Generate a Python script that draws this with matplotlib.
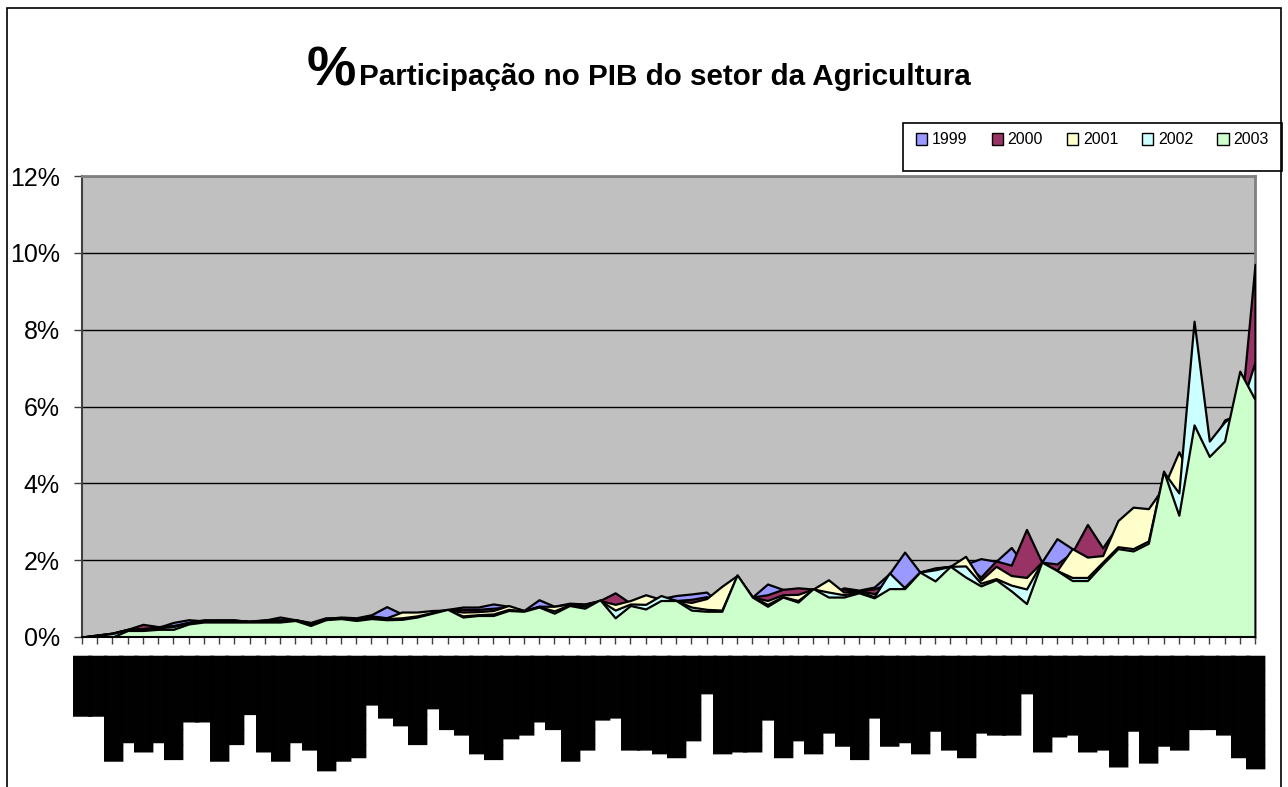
import matplotlib
matplotlib.use('Agg')
import matplotlib.pyplot as plt
import numpy as np
from matplotlib.patches import Rectangle, Patch
from matplotlib.ticker import FuncFormatter

# ---------------- data ----------------
anos = ['1999', '2000', '2001', '2002', '2003']

v1999 = [0, .05, .1, .2, .22, .25, .38, .45, .42, .43,
         .43, .42, .44, .52, .45, .36, .48, .52, .5, .58,
         .79, .6, .62, .66, .72, .78, .78, .86, .8, .69,
         .97, .8, .88, .86, .95, .8, .9, .9, 1.0, 1.08,
         1.12, 1.17, .8, 1.6, 1.04, 1.38, 1.24, 1.2, 1.25, 1.1,
         1.28, 1.22, 1.3, 1.65, 2.21, 1.69, 1.78, 1.84, 1.9, 2.04,
         1.97, 2.33, 1.8, 1.95, 2.56, 2.3, 2.1, 2.3, 2.9, 3.2,
         3.3, 3.9, 4.5, 4.0, 4.9, 5.5, 5.8, 6.5]
v2000 = [0, .05, .1, .2, .33, .27, .3, .38, .45, .45,
         .45, .4, .45, .45, .45, .38, .5, .5, .48, .55,
         .5, .62, .6, .65, .7, .72, .72, .75, .78, .68,
         .8, .75, .86, .84, .95, 1.15, .88, .9, 1.0, .95,
         .98, 1.05, .85, 1.6, 1.04, 1.1, 1.24, 1.28, 1.25, 1.1,
         1.25, 1.2, 1.25, 1.4, 1.3, 1.69, 1.78, 1.84, 1.9, 1.56,
         1.98, 1.87, 2.8, 1.95, 1.9, 2.2, 2.93, 2.32, 2.9, 3.2,
         3.3, 3.9, 4.5, 4.0, 4.9, 5.5, 5.5, 9.7]
v2001 = [0, .05, .1, .2, .22, .25, .28, .38, .43, .43,
         .43, .4, .43, .43, .45, .36, .47, .5, .46, .52,
         .5, .65, .65, .69, .7, .65, .66, .69, .82, .69,
         .8, .8, .86, .85, .95, .85, .95, 1.1, .98, .95,
         .9, 1.0, 1.32, 1.6, 1.04, .95, 1.1, 1.11, 1.25, 1.49,
         1.17, 1.2, 1.13, 1.3, 1.28, 1.69, 1.8, 1.84, 2.1, 1.48,
         1.84, 1.6, 1.55, 1.95, 1.73, 2.3, 2.08, 2.12, 3.03, 3.38,
         3.34, 3.9, 4.82, 4.0, 4.9, 5.65, 5.8, 6.5]
v2002 = [0, .04, .09, .19, .22, .24, .27, .37, .42, .42,
         .42, .4, .42, .42, .44, .34, .46, .49, .45, .5,
         .48, .5, .55, .64, .7, .55, .58, .6, .72, .68,
         .79, .68, .84, .8, .95, .7, .86, .85, 1.08, .95,
         .78, .72, .7, 1.6, 1.04, .85, 1.05, .95, 1.25, 1.17,
         1.1, 1.18, 1.05, 1.67, 1.28, 1.69, 1.75, 1.84, 1.85, 1.4,
         1.52, 1.35, 1.25, 1.95, 1.73, 1.55, 1.55, 1.95, 2.35, 2.3,
         2.5, 4.3, 3.75, 8.22, 5.1, 5.6, 5.9, 7.16]
v2003 = [0, 0, 0, .17, .17, .2, .2, .34, .39, .39,
         .39, .39, .39, .39, .43, .3, .45, .48, .43, .48,
         .45, .46, .52, .62, .72, .52, .56, .56, .69, .67,
         .78, .62, .82, .75, .97, .5, .82, .73, .95, .95,
         .7, .67, .67, 1.62, 1.04, .8, 1.04, .91, 1.26, 1.04,
         1.04, 1.15, 1.02, 1.26, 1.26, 1.69, 1.46, 1.84, 1.56, 1.33,
         1.49, 1.2, .87, 1.95, 1.73, 1.47, 1.47, 1.9, 2.3, 2.24,
         2.44, 4.32, 3.17, 5.52, 4.7, 5.1, 6.92, 6.18]
series = [v1999, v2000, v2001, v2002, v2003]

# category labels (redacted in the original: shown as solid black blocks);
# label length in eighths of a block character
comprimento_rotulos = [33, 33, 57, 47, 52, 47, 56, 36, 36, 57,
                       48, 32, 52, 57, 47, 51, 62, 57, 55, 27,
                       34, 38, 48, 29, 40, 43, 53, 56, 45, 43,
                       36, 40, 57, 51, 35, 34, 51, 51, 53, 55,
                       46, 21, 53, 52, 52, 35, 55, 46, 53, 42,
                       49, 56, 34, 49, 47, 53, 41, 51, 55, 42,
                       43, 43, 21, 52, 44, 43, 52, 51, 60, 41,
                       58, 49, 51, 40, 40, 43, 55, 61]
_parciais = ['', '\u258f', '\u258e', '\u258d', '\u258c', '\u258b', '\u258a', '\u2589']
categorias = ['\u2588' * (n // 8) + _parciais[n % 8] for n in comprimento_rotulos]

yticks = [0, 2, 4, 6, 8, 10, 12]

# ---------------- style ----------------
cores = ['#9999FF', '#993366', '#FFFFCC', '#CCFFFF', '#CCFFCC']
W, H = 1288, 787
fig = plt.figure(figsize=(W / 100, H / 100), dpi=100)
fig.patch.set_facecolor('white')

ax = fig.add_axes([82 / W, 1 - 637 / H, (1255 - 82) / W, (637 - 176) / H])
ax.set_facecolor('#C0C0C0')

x = np.arange(len(categorias))
for serie, cor, ano in zip(series, cores, anos):
    ax.fill_between(x, 0, serie, facecolor=cor, edgecolor='black',
                    linewidth=1.6, zorder=3, label=ano)

ax.set_xlim(0, len(categorias) - 1)
ax.set_ylim(0, 12)
ax.set_yticks(yticks)
ax.yaxis.set_major_formatter(FuncFormatter(lambda v, p: f'{int(round(v))}%'))
ax.yaxis.grid(True, color='black', linewidth=1.0)
ax.set_axisbelow(True)

for s in ['top', 'right']:
    ax.spines[s].set_color('#808080')
    ax.spines[s].set_linewidth(2)
ax.spines['left'].set_color('#404040')
ax.spines['left'].set_linewidth(1.5)
ax.spines['bottom'].set_color('black')
ax.spines['bottom'].set_linewidth(1.5)
ax.spines['bottom'].set_zorder(5)

ax.set_xticks(x)
ax.set_xticklabels(categorias, rotation=-90, fontsize=14, family='DejaVu Sans',
                   color='black')
ax.tick_params(axis='x', length=5, width=1, color='#404040', pad=7.2, direction='out')
ax.tick_params(axis='y', length=6, width=1, color='#404040', pad=10, labelsize=18,
               direction='out')
for lab in ax.get_yticklabels():
    lab.set_family(['Liberation Sans', 'DejaVu Sans'])

# legend (entries near the top of a taller box, as in the original)
handles = [Patch(facecolor=c, edgecolor='black', linewidth=1) for c in cores]
leg = fig.legend(handles, anos, loc='center',
                 bbox_to_anchor=((903 + 1282) / 2 / W, 1 - 140 / H), ncol=5,
                 frameon=False,
                 prop={'family': ['Liberation Sans', 'DejaVu Sans'], 'size': 11.5},
                 handlelength=0.7, handleheight=0.7, handletextpad=0.3,
                 columnspacing=1.5, borderpad=0, borderaxespad=0)
fig.patches.append(Rectangle((903 / W, 1 - 171 / H), (1282 - 903) / W, 48 / H,
                             transform=fig.transFigure, facecolor='white',
                             edgecolor='black', linewidth=1.2, zorder=0))

# title
fig.text(356 / W, 1 - 86 / H, '%', ha='right', va='baseline', fontsize=40,
         weight='bold', family=['Liberation Sans', 'DejaVu Sans'])
fig.text(359 / W, 1 - 85 / H, 'Participação no PIB do setor da Agricultura',
         ha='left', va='baseline', fontsize=21.3, weight='bold',
         family=['Liberation Sans Narrow', 'Liberation Sans', 'DejaVu Sans'])

# outer chart border
fig.patches.append(Rectangle((7 / W, -0.02), (1281 - 7) / W, (787 - 8) / H + 0.02,
                             transform=fig.transFigure, fill=False,
                             edgecolor='black', linewidth=1.2))

fig.savefig('out.png', dpi=100)
